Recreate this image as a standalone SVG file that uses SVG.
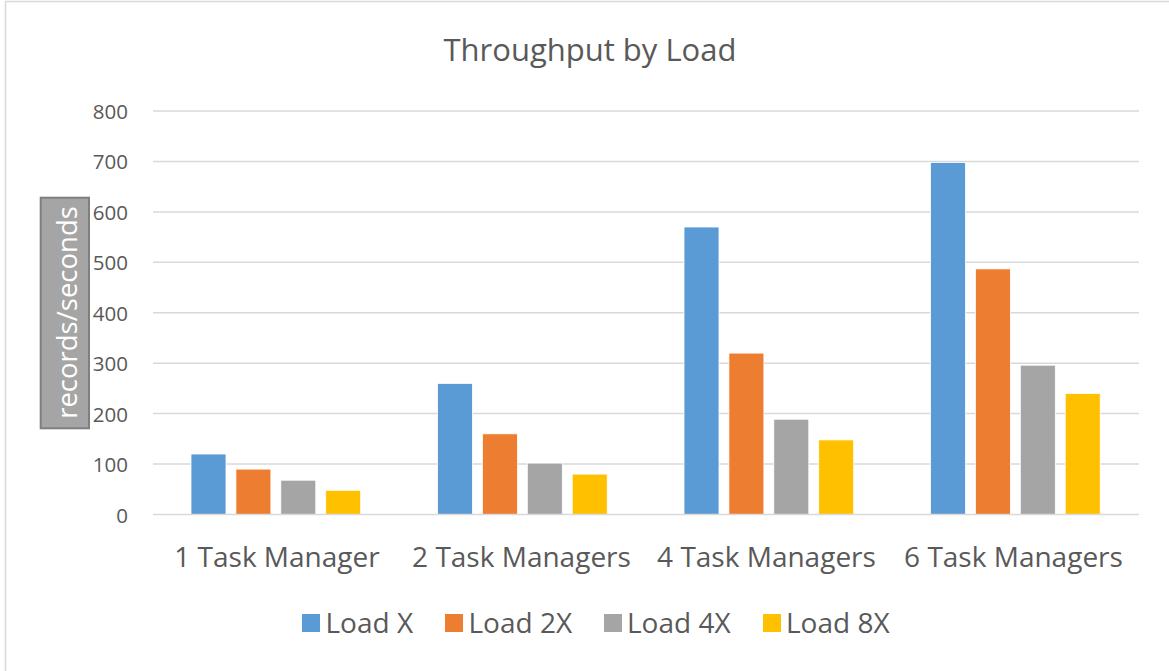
<svg xmlns="http://www.w3.org/2000/svg" width="1169" height="671" viewBox="0 0 1169 671">
  <style>
    text { font-family: "Open Sans", "Liberation Sans", sans-serif; fill: #595959; }
    .grid { stroke: #D9D9D9; stroke-width: 1.5; fill: none; }
    .tick { font-size: 20.5px; text-anchor: end; }
    .cat { font-size: 28px; text-anchor: middle; }
    .leg { font-size: 28px; }
    .bar { stroke: #FFFFFF; stroke-width: 0.8; }
    .s1 { fill: #5B9BD5; }
    .s2 { fill: #ED7D31; }
    .s3 { fill: #A5A5A5; }
    .s4 { fill: #FFC000; }
  </style>
  <rect x="0" y="0" width="1169" height="671" fill="#FFFFFF"/>
  <rect x="5.5" y="1.5" width="1170" height="680" fill="#FFFFFF" stroke="#D9D9D9" stroke-width="1.5"/>

  <g id="title">
    <text x="590" y="61" font-size="31" text-anchor="middle">Throughput by Load</text>
  </g>

  <g id="gridlines">
    <line class="grid" x1="153" y1="111" x2="1139" y2="111"/>
    <line class="grid" x1="153" y1="161.4" x2="1139" y2="161.4"/>
    <line class="grid" x1="153" y1="211.9" x2="1139" y2="211.9"/>
    <line class="grid" x1="153" y1="262.3" x2="1139" y2="262.3"/>
    <line class="grid" x1="153" y1="312.8" x2="1139" y2="312.8"/>
    <line class="grid" x1="153" y1="363.2" x2="1139" y2="363.2"/>
    <line class="grid" x1="153" y1="413.6" x2="1139" y2="413.6"/>
    <line class="grid" x1="153" y1="464.1" x2="1139" y2="464.1"/>
  </g>

  <g id="y-axis-labels">
    <text class="tick" x="128" y="119">800</text>
    <text class="tick" x="128" y="169.4">700</text>
    <text class="tick" x="128" y="219.9">600</text>
    <text class="tick" x="128" y="270.3">500</text>
    <text class="tick" x="128" y="320.8">400</text>
    <text class="tick" x="128" y="371.2">300</text>
    <text class="tick" x="128" y="421.6">200</text>
    <text class="tick" x="128" y="472.1">100</text>
    <text class="tick" x="128" y="522.5">0</text>
  </g>

  <g id="y-axis-title">
    <rect x="40.7" y="197.7" width="48.3" height="230.6" fill="#A5A5A5" stroke="#7F7F7F" stroke-width="2"/>
    <text transform="translate(77,312.5) rotate(-90)" font-size="27.5" text-anchor="middle" style="fill:#FFFFFF">records/seconds</text>
  </g>

  <g id="group-1-task-manager">
    <rect class="bar s1" x="191" y="454.0" width="35" height="60.5"/>
    <rect class="bar s2" x="235.9" y="469.1" width="35" height="45.4"/>
    <rect class="bar s3" x="280.8" y="480.2" width="35" height="34.3"/>
    <rect class="bar s4" x="325.7" y="490.3" width="35" height="24.2"/>
  </g>
  <g id="group-2-task-managers">
    <rect class="bar s1" x="437.5" y="383.4" width="35" height="131.1"/>
    <rect class="bar s2" x="482.4" y="433.8" width="35" height="80.7"/>
    <rect class="bar s3" x="527.3" y="463.1" width="35" height="51.4"/>
    <rect class="bar s4" x="572.2" y="474.1" width="35" height="40.4"/>
  </g>
  <g id="group-4-task-managers">
    <rect class="bar s1" x="684" y="227.0" width="35" height="287.5"/>
    <rect class="bar s2" x="728.9" y="353.1" width="35" height="161.4"/>
    <rect class="bar s3" x="773.8" y="419.2" width="35" height="95.3"/>
    <rect class="bar s4" x="818.7" y="439.9" width="35" height="74.6"/>
  </g>
  <g id="group-6-task-managers">
    <rect class="bar s1" x="930.5" y="162.4" width="35" height="352.1"/>
    <rect class="bar s2" x="975.4" y="268.9" width="35" height="245.6"/>
    <rect class="bar s3" x="1020.3" y="365.2" width="35" height="149.3"/>
    <rect class="bar s4" x="1065.2" y="393.4" width="35" height="121.1"/>
  </g>

  <g id="x-axis">
    <line class="grid" x1="153" y1="514.5" x2="1139" y2="514.5"/>
  </g>

  <g id="x-axis-labels">
    <text class="cat" x="277" y="566.7">1 Task Manager</text>
    <text class="cat" x="521.5" y="566.7">2 Task Managers</text>
    <text class="cat" x="766.5" y="566.7">4 Task Managers</text>
    <text class="cat" x="1013.5" y="566.7">6 Task Managers</text>
  </g>

  <g id="legend">
    <rect class="s1" x="302" y="614" width="18" height="18"/>
    <text class="leg" x="325.5" y="633">Load X</text>
    <rect class="s2" x="445" y="614" width="18" height="18"/>
    <text class="leg" x="468.5" y="633">Load 2X</text>
    <rect class="s3" x="604" y="614" width="18" height="18"/>
    <text class="leg" x="627" y="633">Load 4X</text>
    <rect class="s4" x="763" y="614" width="18" height="18"/>
    <text class="leg" x="786" y="633">Load 8X</text>
  </g>
</svg>
